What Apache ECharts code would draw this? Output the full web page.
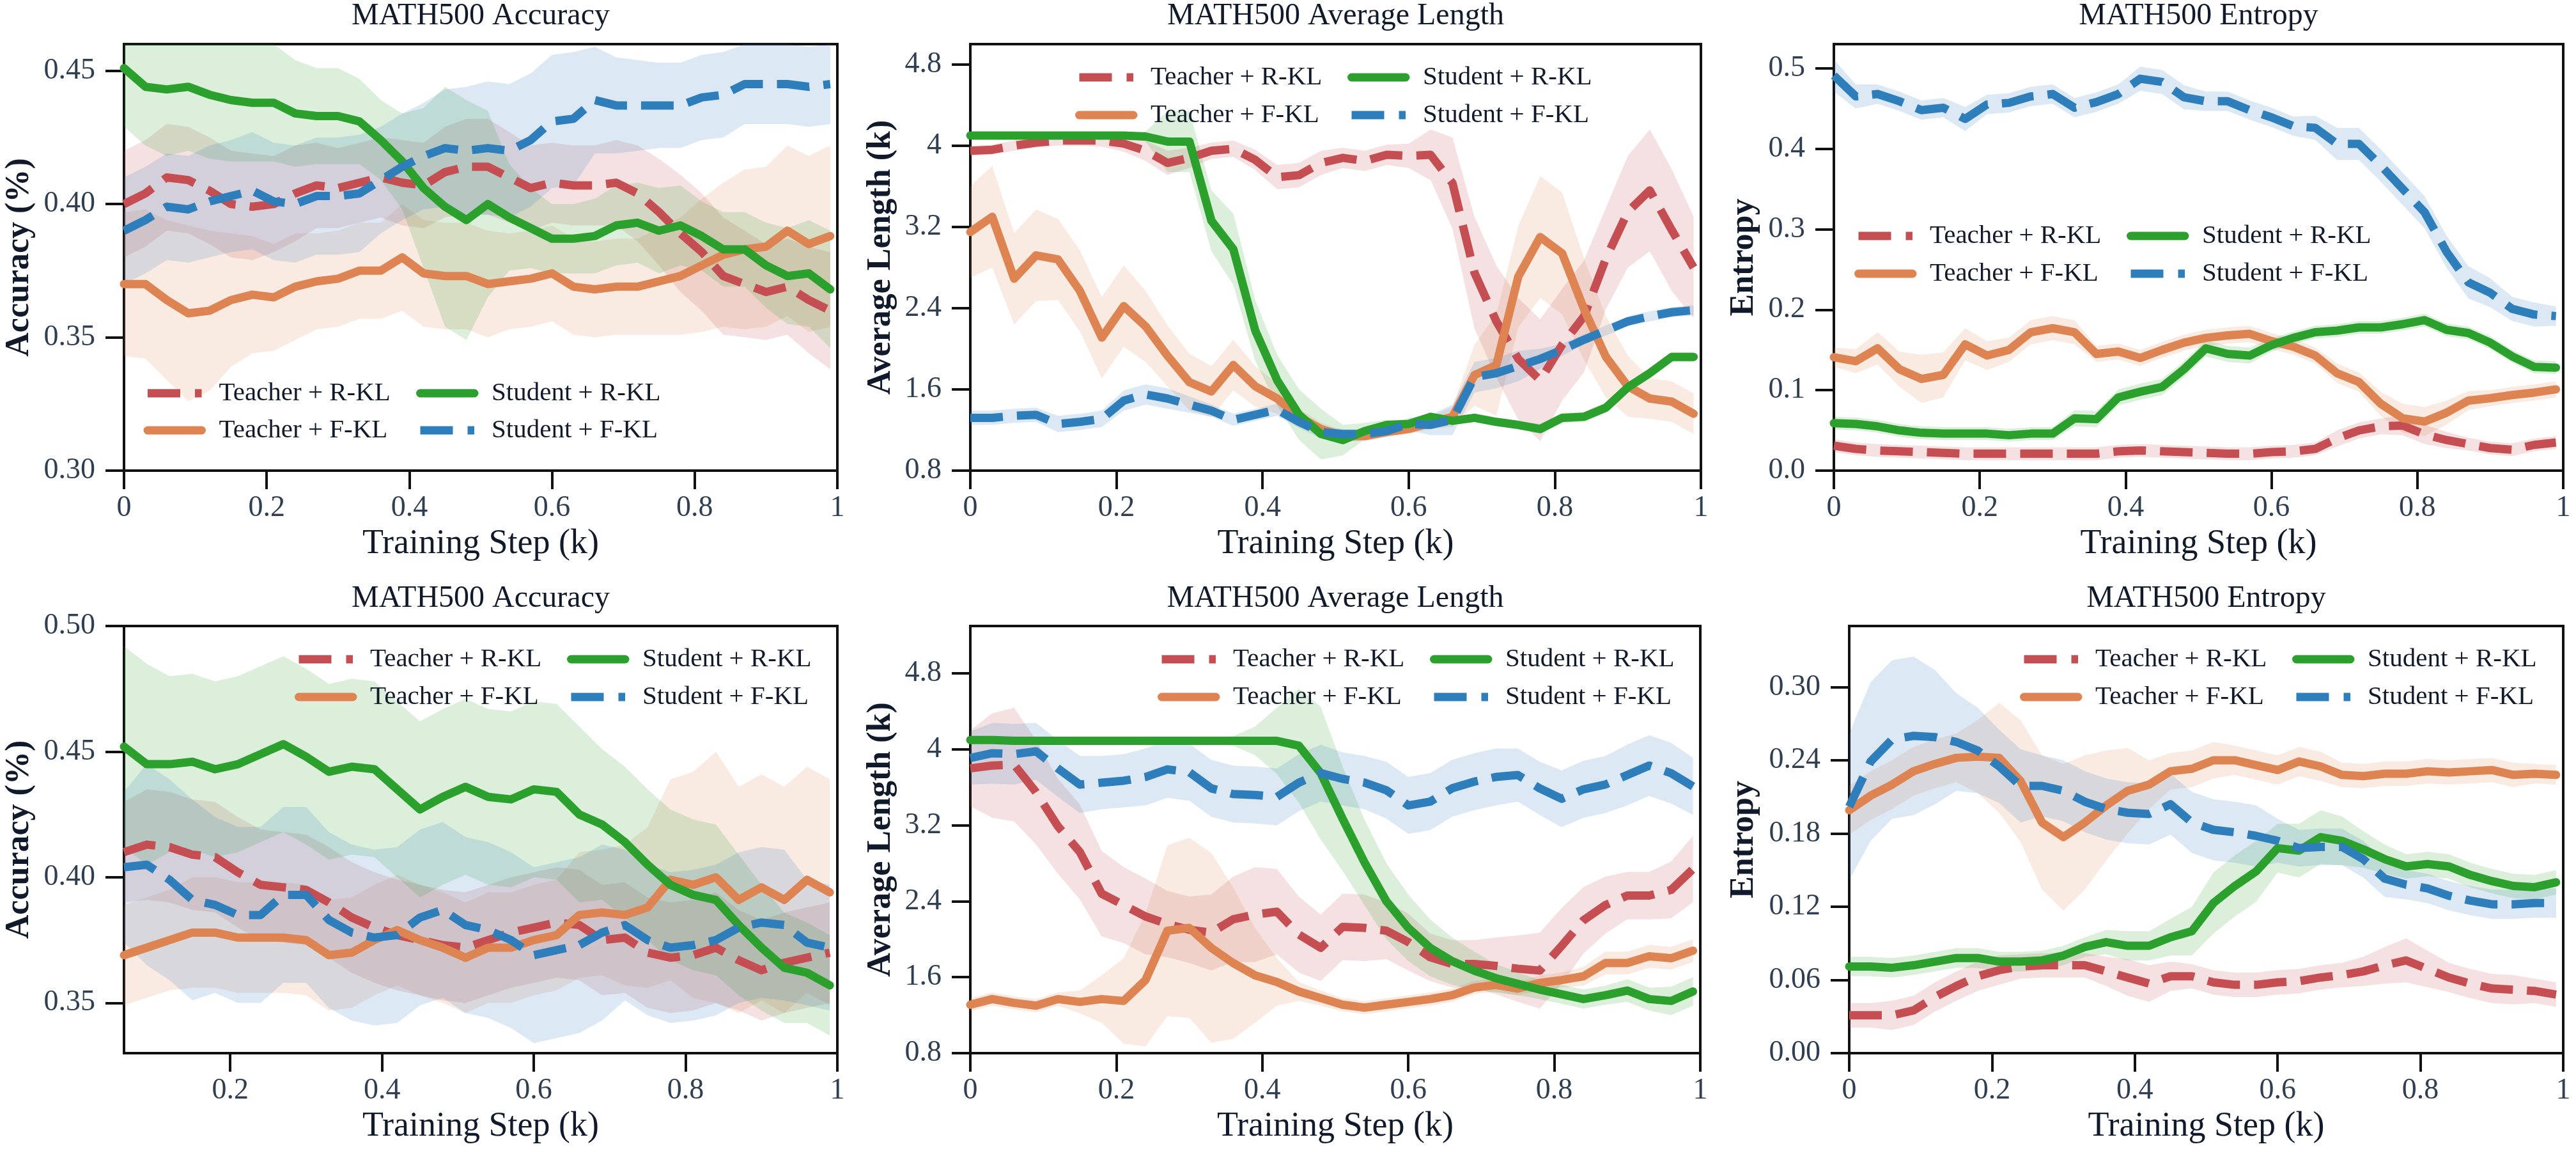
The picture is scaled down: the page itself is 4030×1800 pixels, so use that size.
<!DOCTYPE html>
<html><head><meta charset="utf-8">
<script src="https://cdn.jsdelivr.net/npm/echarts@6/dist/echarts.min.js"></script>
<style>html,body{margin:0;padding:0;background:#fff}#c{width:4030px;height:1800px}</style>
</head><body><div id="c"></div>
<script>
// ---------------- DATA ----------------
const seriesNames = ['Teacher + R-KL', 'Teacher + F-KL', 'Student + R-KL', 'Student + F-KL'];
const stepsFull = [0,0.03,0.06,0.09,0.12,0.15,0.18,0.21,0.24,0.27,0.30,0.33,0.36,0.39,0.42,0.45,0.48,0.51,0.54,0.57,0.60,0.63,0.66,0.69,0.72,0.75,0.78,0.81,0.84,0.87,0.90,0.93,0.96,0.99];
const stepsLate = [0.06,0.09,0.12,0.15,0.18,0.21,0.24,0.27,0.30,0.33,0.36,0.39,0.42,0.45,0.48,0.51,0.54,0.57,0.60,0.63,0.66,0.69,0.72,0.75,0.78,0.81,0.84,0.87,0.90,0.93,0.96,0.99];
const xTicksFull = [0,0.2,0.4,0.6,0.8,1];
const xLabelsFull = ['0','0.2','0.4','0.6','0.8','1'];
const xTicksLate = [0.2,0.4,0.6,0.8,1];
const xLabelsLate = ['0.2','0.4','0.6','0.8','1'];

// Panel 1: MATH500 Accuracy (top)
const accTopYTicks = [0.30,0.35,0.40,0.45];
const accTopYLabels = ['0.30','0.35','0.40','0.45'];
const accTopTR = [0.400,0.404,0.410,0.409,0.405,0.400,0.399,0.400,0.404,0.407,0.406,0.408,0.410,0.408,0.407,0.412,0.414,0.414,0.410,0.406,0.408,0.407,0.407,0.408,0.404,0.397,0.389,0.382,0.373,0.370,0.367,0.369,0.364,0.360];
const accTopTF = [0.370,0.370,0.364,0.359,0.360,0.364,0.366,0.365,0.369,0.371,0.372,0.375,0.375,0.380,0.374,0.373,0.373,0.370,0.371,0.372,0.374,0.369,0.368,0.369,0.369,0.371,0.373,0.377,0.381,0.383,0.384,0.390,0.385,0.388];
const accTopSR = [0.451,0.444,0.443,0.444,0.441,0.439,0.438,0.438,0.434,0.433,0.433,0.431,0.424,0.416,0.406,0.399,0.394,0.400,0.395,0.391,0.387,0.387,0.388,0.392,0.393,0.390,0.392,0.388,0.383,0.383,0.377,0.373,0.374,0.368];
const accTopSF = [0.390,0.394,0.399,0.398,0.401,0.403,0.405,0.401,0.400,0.403,0.403,0.404,0.409,0.414,0.418,0.421,0.420,0.421,0.420,0.424,0.431,0.432,0.439,0.437,0.437,0.437,0.437,0.440,0.441,0.445,0.445,0.445,0.444,0.445];
const accTopTRci = [0.020,0.020,0.020,0.020,0.020,0.020,0.020,0.018,0.018,0.016,0.015,0.015,0.015,0.016,0.016,0.017,0.018,0.018,0.017,0.016,0.015,0.015,0.015,0.016,0.018,0.020,0.022,0.022,0.022,0.020,0.018,0.018,0.020,0.022];
const accTopTFci = [0.027,0.028,0.030,0.033,0.030,0.025,0.022,0.020,0.020,0.018,0.018,0.018,0.018,0.020,0.020,0.020,0.020,0.020,0.018,0.018,0.018,0.018,0.018,0.018,0.018,0.020,0.022,0.025,0.027,0.030,0.030,0.032,0.033,0.034];
const accTopSRci = [0.022,0.022,0.025,0.024,0.024,0.023,0.022,0.022,0.020,0.018,0.018,0.016,0.015,0.018,0.030,0.045,0.045,0.035,0.020,0.015,0.013,0.013,0.014,0.015,0.015,0.016,0.015,0.013,0.014,0.014,0.016,0.018,0.020,0.022];
const accTopSFci = [0.020,0.020,0.020,0.020,0.021,0.021,0.022,0.022,0.022,0.022,0.022,0.022,0.020,0.020,0.020,0.022,0.024,0.025,0.025,0.025,0.025,0.025,0.020,0.018,0.017,0.016,0.016,0.016,0.016,0.015,0.015,0.015,0.015,0.015];

// Panel 2: MATH500 Average Length (top)
const lenTopYTicks = [0.8,1.6,2.4,3.2,4.0,4.8];
const lenTopYLabels = ['0.8','1.6','2.4','3.2','4','4.8'];
const lenTopTR = [3.95,3.96,4.00,4.03,4.05,4.05,4.05,4.02,3.95,3.83,3.88,3.95,3.97,3.86,3.69,3.71,3.83,3.88,3.85,3.91,3.90,3.91,3.63,2.75,2.27,1.90,1.69,2.04,2.32,2.89,3.35,3.56,3.17,2.80];
const lenTopTF = [3.15,3.30,2.69,2.92,2.88,2.57,2.11,2.42,2.22,1.93,1.67,1.58,1.84,1.63,1.51,1.33,1.21,1.14,1.14,1.18,1.21,1.27,1.33,1.74,1.84,2.71,3.10,2.94,2.39,1.92,1.63,1.51,1.48,1.36];
const lenTopSR = [4.10,4.10,4.10,4.10,4.10,4.10,4.10,4.10,4.09,4.04,4.04,3.26,2.98,2.18,1.69,1.35,1.16,1.10,1.19,1.25,1.26,1.33,1.29,1.32,1.28,1.25,1.21,1.32,1.33,1.42,1.62,1.76,1.92,1.92];
const lenTopSF = [1.32,1.32,1.34,1.35,1.26,1.28,1.31,1.49,1.55,1.51,1.45,1.39,1.30,1.35,1.40,1.28,1.18,1.16,1.16,1.19,1.26,1.25,1.30,1.72,1.76,1.83,1.90,1.99,2.09,2.18,2.27,2.32,2.36,2.38];
const lenTopTRci = [0.05,0.05,0.05,0.05,0.05,0.05,0.06,0.08,0.10,0.12,0.10,0.08,0.08,0.10,0.12,0.12,0.12,0.10,0.10,0.10,0.12,0.25,0.45,0.55,0.55,0.60,0.60,0.55,0.55,0.50,0.55,0.60,0.60,0.50];
const lenTopTFci = [0.45,0.50,0.45,0.45,0.40,0.40,0.40,0.40,0.35,0.30,0.28,0.25,0.25,0.20,0.15,0.08,0.06,0.05,0.05,0.05,0.05,0.06,0.10,0.30,0.50,0.50,0.60,0.60,0.50,0.40,0.30,0.20,0.20,0.20];
const lenTopSRci = [0.02,0.02,0.02,0.02,0.02,0.02,0.02,0.02,0.05,0.30,0.30,0.30,0.35,0.30,0.25,0.25,0.25,0.15,0.08,0.05,0.04,0.04,0.04,0.04,0.04,0.04,0.05,0.05,0.05,0.05,0.05,0.05,0.05,0.05];
const lenTopSFci = [0.07,0.07,0.07,0.07,0.08,0.08,0.08,0.10,0.10,0.10,0.08,0.06,0.06,0.06,0.06,0.06,0.06,0.05,0.05,0.05,0.06,0.10,0.15,0.15,0.15,0.15,0.10,0.06,0.05,0.05,0.05,0.05,0.05,0.05];

// Panel 3: MATH500 Entropy (top)
const entTopYTicks = [0,0.1,0.2,0.3,0.4,0.5];
const entTopYLabels = ['0.0','0.1','0.2','0.3','0.4','0.5'];
const entTopTR = [0.031,0.027,0.025,0.024,0.023,0.022,0.021,0.021,0.021,0.021,0.021,0.021,0.021,0.024,0.025,0.024,0.023,0.022,0.021,0.021,0.023,0.024,0.027,0.040,0.050,0.055,0.056,0.045,0.038,0.033,0.028,0.026,0.032,0.035];
const entTopTF = [0.141,0.136,0.152,0.126,0.114,0.119,0.157,0.143,0.150,0.172,0.177,0.172,0.145,0.148,0.140,0.150,0.159,0.165,0.168,0.170,0.161,0.154,0.143,0.121,0.110,0.083,0.065,0.061,0.072,0.087,0.090,0.094,0.097,0.101];
const entTopSR = [0.059,0.058,0.055,0.050,0.047,0.046,0.046,0.046,0.044,0.046,0.046,0.065,0.064,0.091,0.098,0.104,0.126,0.152,0.145,0.143,0.156,0.165,0.172,0.174,0.178,0.178,0.182,0.187,0.175,0.171,0.159,0.142,0.129,0.128];
const entTopSF = [0.491,0.465,0.468,0.459,0.448,0.451,0.437,0.455,0.457,0.465,0.468,0.451,0.458,0.468,0.487,0.483,0.464,0.459,0.459,0.448,0.439,0.428,0.426,0.406,0.406,0.379,0.350,0.321,0.272,0.234,0.221,0.201,0.194,0.192];
const entTopTRci = [0.008,0.008,0.008,0.008,0.008,0.008,0.008,0.008,0.008,0.008,0.008,0.008,0.008,0.008,0.008,0.008,0.008,0.008,0.008,0.008,0.008,0.008,0.008,0.010,0.010,0.010,0.012,0.012,0.010,0.008,0.008,0.008,0.008,0.008];
const entTopTFci = [0.012,0.015,0.020,0.022,0.030,0.028,0.020,0.018,0.015,0.015,0.015,0.015,0.010,0.010,0.010,0.010,0.010,0.010,0.010,0.010,0.010,0.010,0.010,0.012,0.012,0.015,0.018,0.018,0.015,0.012,0.010,0.010,0.010,0.010];
const entTopSRci = [0.008,0.008,0.008,0.008,0.008,0.008,0.008,0.008,0.008,0.008,0.008,0.010,0.010,0.010,0.010,0.010,0.010,0.010,0.010,0.010,0.008,0.008,0.008,0.008,0.008,0.008,0.008,0.008,0.008,0.008,0.008,0.008,0.008,0.008];
const entTopSFci = [0.020,0.015,0.012,0.012,0.012,0.012,0.015,0.012,0.012,0.012,0.012,0.012,0.012,0.012,0.015,0.015,0.015,0.012,0.012,0.012,0.012,0.012,0.015,0.020,0.020,0.020,0.020,0.020,0.020,0.020,0.018,0.015,0.015,0.012];

// Panel 4: MATH500 Accuracy (bottom)
const accBotYTicks = [0.35,0.40,0.45,0.50];
const accBotYLabels = ['0.35','0.40','0.45','0.50'];
const accBotTR = [0.410,0.413,0.412,0.409,0.408,0.402,0.397,0.396,0.395,0.390,0.384,0.380,0.377,0.375,0.373,0.372,0.375,0.378,0.380,0.382,0.381,0.375,0.376,0.370,0.368,0.369,0.372,0.367,0.363,0.366,0.368,0.370];
const accBotTF = [0.369,0.372,0.375,0.378,0.378,0.376,0.376,0.376,0.375,0.369,0.370,0.375,0.379,0.375,0.372,0.368,0.372,0.372,0.375,0.377,0.385,0.386,0.385,0.388,0.399,0.397,0.400,0.391,0.396,0.391,0.399,0.394];
const accBotSR = [0.452,0.445,0.445,0.446,0.443,0.445,0.449,0.453,0.448,0.442,0.444,0.443,0.435,0.427,0.432,0.436,0.432,0.431,0.435,0.434,0.425,0.421,0.414,0.405,0.397,0.393,0.391,0.381,0.372,0.364,0.362,0.357];
const accBotSF = [0.404,0.405,0.399,0.391,0.389,0.385,0.385,0.393,0.393,0.383,0.378,0.376,0.377,0.384,0.387,0.381,0.379,0.375,0.369,0.371,0.373,0.378,0.381,0.375,0.372,0.373,0.375,0.380,0.382,0.381,0.374,0.372];
const accBotTRci = [0.020,0.022,0.022,0.022,0.022,0.022,0.022,0.022,0.022,0.022,0.022,0.022,0.022,0.022,0.022,0.022,0.022,0.022,0.022,0.022,0.022,0.022,0.022,0.022,0.022,0.022,0.022,0.020,0.020,0.020,0.020,0.020];
const accBotTFci = [0.020,0.020,0.020,0.022,0.022,0.022,0.022,0.022,0.022,0.022,0.022,0.022,0.022,0.022,0.022,0.022,0.022,0.022,0.022,0.022,0.025,0.025,0.028,0.032,0.040,0.045,0.050,0.045,0.045,0.045,0.045,0.045];
const accBotSRci = [0.040,0.040,0.035,0.035,0.035,0.035,0.035,0.035,0.035,0.035,0.035,0.035,0.035,0.035,0.035,0.035,0.035,0.035,0.035,0.035,0.035,0.030,0.030,0.030,0.030,0.030,0.030,0.028,0.025,0.022,0.020,0.020];
const accBotSFci = [0.030,0.040,0.040,0.040,0.035,0.035,0.035,0.035,0.035,0.035,0.035,0.035,0.035,0.035,0.035,0.035,0.035,0.035,0.035,0.035,0.035,0.035,0.030,0.030,0.030,0.030,0.030,0.030,0.030,0.030,0.025,0.025];

// Panel 5: MATH500 Average Length (bottom)
const lenBotYTicks = [0.8,1.6,2.4,3.2,4.0,4.8];
const lenBotYLabels = ['0.8','1.6','2.4','3.2','4','4.8'];
const lenBotTR = [3.80,3.83,3.84,3.55,3.19,2.92,2.48,2.36,2.24,2.16,2.10,2.07,2.21,2.26,2.29,2.05,1.91,2.13,2.12,2.09,1.97,1.81,1.74,1.74,1.72,1.69,1.67,1.93,2.20,2.36,2.46,2.46,2.52,2.74];
const lenBotTF = [1.31,1.37,1.33,1.30,1.37,1.34,1.37,1.35,1.57,2.09,2.12,1.91,1.75,1.62,1.55,1.45,1.38,1.31,1.28,1.31,1.34,1.37,1.41,1.49,1.52,1.48,1.54,1.57,1.61,1.75,1.75,1.82,1.80,1.88];
const lenBotSR = [4.10,4.10,4.09,4.09,4.09,4.09,4.09,4.09,4.09,4.09,4.09,4.09,4.09,4.09,4.09,4.04,3.75,3.27,2.81,2.40,2.12,1.91,1.77,1.67,1.59,1.53,1.47,1.42,1.37,1.41,1.46,1.37,1.35,1.45];
const lenBotSF = [3.91,3.96,3.95,3.98,3.80,3.63,3.65,3.67,3.71,3.79,3.76,3.59,3.53,3.52,3.50,3.65,3.75,3.69,3.65,3.57,3.41,3.45,3.59,3.66,3.71,3.73,3.59,3.48,3.58,3.63,3.73,3.83,3.75,3.61];
const lenBotTRci = [0.40,0.55,0.60,0.55,0.50,0.50,0.45,0.40,0.40,0.35,0.35,0.40,0.45,0.50,0.45,0.40,0.35,0.35,0.35,0.30,0.30,0.25,0.25,0.25,0.30,0.35,0.40,0.40,0.35,0.30,0.25,0.25,0.30,0.35];
const lenBotTFci = [0.07,0.07,0.07,0.07,0.07,0.12,0.25,0.45,0.70,0.90,0.95,1.00,0.80,0.50,0.25,0.10,0.08,0.07,0.07,0.07,0.07,0.07,0.07,0.07,0.07,0.07,0.08,0.08,0.10,0.12,0.12,0.12,0.12,0.12];
const lenBotSRci = [0.03,0.03,0.03,0.03,0.03,0.03,0.03,0.03,0.03,0.03,0.03,0.03,0.05,0.15,0.35,0.60,0.70,0.55,0.45,0.40,0.35,0.30,0.25,0.20,0.15,0.12,0.10,0.10,0.10,0.10,0.12,0.12,0.15,0.15];
const lenBotSFci = [0.28,0.32,0.32,0.30,0.30,0.30,0.28,0.28,0.30,0.30,0.30,0.30,0.30,0.30,0.30,0.30,0.30,0.28,0.28,0.30,0.30,0.30,0.30,0.30,0.30,0.28,0.28,0.30,0.30,0.30,0.32,0.32,0.32,0.30];

// Panel 6: MATH500 Entropy (bottom)
const entBotYTicks = [0,0.06,0.12,0.18,0.24,0.30];
const entBotYLabels = ['0.00','0.06','0.12','0.18','0.24','0.30'];
const entBotTR = [0.031,0.031,0.031,0.035,0.046,0.055,0.063,0.068,0.071,0.072,0.072,0.072,0.067,0.062,0.057,0.063,0.063,0.058,0.056,0.056,0.058,0.059,0.062,0.064,0.067,0.072,0.076,0.069,0.062,0.057,0.053,0.052,0.051,0.048];
const entBotTF = [0.199,0.211,0.220,0.231,0.237,0.242,0.243,0.242,0.223,0.189,0.177,0.189,0.203,0.215,0.220,0.231,0.233,0.240,0.240,0.236,0.232,0.239,0.235,0.228,0.227,0.229,0.229,0.231,0.230,0.231,0.232,0.228,0.229,0.228];
const entBotSR = [0.071,0.071,0.070,0.072,0.075,0.078,0.078,0.075,0.075,0.076,0.080,0.087,0.091,0.088,0.088,0.095,0.100,0.123,0.137,0.149,0.168,0.166,0.177,0.174,0.167,0.159,0.153,0.155,0.153,0.146,0.141,0.137,0.136,0.140];
const entBotSF = [0.202,0.239,0.257,0.260,0.259,0.255,0.248,0.235,0.219,0.219,0.215,0.206,0.200,0.197,0.196,0.204,0.189,0.183,0.181,0.178,0.174,0.168,0.169,0.169,0.159,0.143,0.138,0.135,0.129,0.125,0.122,0.122,0.123,0.123];
const entBotTRci = [0.010,0.010,0.012,0.012,0.012,0.012,0.012,0.012,0.010,0.010,0.010,0.010,0.012,0.015,0.015,0.012,0.010,0.010,0.010,0.010,0.010,0.010,0.010,0.010,0.012,0.015,0.018,0.015,0.012,0.012,0.012,0.012,0.010,0.010];
const entBotTFci = [0.020,0.020,0.020,0.020,0.020,0.020,0.030,0.045,0.050,0.055,0.060,0.055,0.045,0.035,0.020,0.015,0.015,0.015,0.012,0.012,0.012,0.012,0.012,0.010,0.010,0.010,0.010,0.010,0.010,0.010,0.010,0.010,0.008,0.008];
const entBotSRci = [0.008,0.008,0.008,0.008,0.008,0.008,0.008,0.008,0.008,0.008,0.008,0.008,0.010,0.012,0.012,0.015,0.020,0.025,0.025,0.025,0.020,0.022,0.022,0.020,0.015,0.012,0.010,0.010,0.010,0.010,0.010,0.010,0.010,0.010];
const entBotSFci = [0.060,0.065,0.065,0.065,0.055,0.040,0.035,0.030,0.030,0.025,0.025,0.025,0.025,0.025,0.025,0.025,0.025,0.025,0.025,0.025,0.018,0.015,0.015,0.015,0.015,0.015,0.012,0.012,0.012,0.012,0.012,0.012,0.012,0.012];

// ---------------- STYLE / LAYOUT ----------------
const FONT = 'Liberation Serif, Times New Roman, serif';
const colors = ['#c44e52', '#dd8452', '#2ca02c', '#2e7ebc'];
const bandColors = ['rgba(196,78,82,0.17)', 'rgba(221,132,82,0.17)', 'rgba(44,160,44,0.17)', 'rgba(46,126,188,0.17)'];
const dashed = [true, false, false, true];
const LW = 13;
const iconSolid = 'path://M0,0 L0,13 M6.5,0 L91,0 A6.5,6.5 0 0 1 91,13 L6.5,13 A6.5,6.5 0 0 1 6.5,0 Z M113,0 L113,13';
const iconDash = 'path://M0,0 L0,13 M6.5,0 L57.5,0 L57.5,13 L6.5,13 Z M80.5,0 L91,0 L91,13 L80.5,13 Z M113,0 L113,13';

const panels = [
  {title:'MATH500 Accuracy', yName:'Accuracy (%)', grid:{left:194,top:69,width:1116,height:667}, xs:stepsFull, xMin:0, xT:xTicksFull, xL:xLabelsFull, yMin:0.30, yMax:0.46, yT:accTopYTicks, yL:accTopYLabels,
   ys:[accTopTR,accTopTF,accTopSR,accTopSF], ci:[accTopTRci,accTopTFci,accTopSRci,accTopSFci], leg:{c1:224.5,c2:651,r1:615,r2:673}, gap:137, titleY:25},
  {title:'MATH500 Average Length', yName:'Average Length (k)', grid:{left:1518,top:69,width:1143,height:667}, xs:stepsFull, xMin:0, xT:xTicksFull, xL:xLabelsFull, yMin:0.8, yMax:5.0, yT:lenTopYTicks, yL:lenTopYLabels,
   ys:[lenTopTR,lenTopTF,lenTopSR,lenTopSF], ci:[lenTopTRci,lenTopTFci,lenTopSRci,lenTopSFci], leg:{c1:1682,c2:2108,r1:121,r2:180}, gap:113, titleY:25},
  {title:'MATH500 Entropy', yName:'Entropy', grid:{left:2869,top:69,width:1141,height:667}, xs:stepsFull, xMin:0, xT:xTicksFull, xL:xLabelsFull, yMin:0, yMax:0.53, yT:entTopYTicks, yL:entTopYLabels,
   ys:[entTopTR,entTopTF,entTopSR,entTopSF], ci:[entTopTRci,entTopTFci,entTopSRci,entTopSFci], leg:{c1:2901,c2:3327,r1:369,r2:428}, gap:114, titleY:25},
  {title:'MATH500 Accuracy', yName:'Accuracy (%)', grid:{left:194,top:979,width:1116,height:668}, xs:stepsLate, xMin:0.06, xT:xTicksLate, xL:xLabelsLate, yMin:0.33, yMax:0.50, yT:accBotYTicks, yL:accBotYLabels,
   ys:[accBotTR,accBotTF,accBotSR,accBotSF], ci:[accBotTRci,accBotTFci,accBotSRci,accBotSFci], leg:{c1:461,c2:887,r1:1031,r2:1090}, gap:137, titleY:936},
  {title:'MATH500 Average Length', yName:'Average Length (k)', grid:{left:1518,top:979,width:1142,height:668}, xs:stepsFull, xMin:0, xT:xTicksFull, xL:xLabelsFull, yMin:0.8, yMax:5.3, yT:lenBotYTicks, yL:lenBotYLabels,
   ys:[lenBotTR,lenBotTF,lenBotSR,lenBotSF], ci:[lenBotTRci,lenBotTFci,lenBotSRci,lenBotSFci], leg:{c1:1811,c2:2237,r1:1031,r2:1090}, gap:113, titleY:936},
  {title:'MATH500 Entropy', yName:'Entropy', grid:{left:2893,top:979,width:1117,height:668}, xs:stepsFull, xMin:0, xT:xTicksFull, xL:xLabelsFull, yMin:0, yMax:0.35, yT:entBotYTicks, yL:entBotYLabels,
   ys:[entBotTR,entBotTF,entBotSR,entBotSF], ci:[entBotTRci,entBotTFci,entBotSRci,entBotSFci], leg:{c1:3160,c2:3586,r1:1031,r2:1090}, gap:138, titleY:936}
];

function labelFor(ticks, labels) {
  return function (v) {
    for (let i = 0; i < ticks.length; i++) if (Math.abs(ticks[i] - v) < 1e-6) return labels[i];
    return '';
  };
}

const grids = [], xAxes = [], yAxes = [], series = [], legends = [], graphics = [];
const axisLineStyle = {color:'#111111', width:4};

panels.forEach(function (p, pi) {
  grids.push(Object.assign({show:true, borderColor:'#111111', borderWidth:4, backgroundColor:'transparent', containLabel:false}, p.grid));
  xAxes.push({
    type:'value', gridIndex:pi, min:p.xMin, max:1,
    axisLine:{show:true, onZero:false, lineStyle:axisLineStyle},
    axisTick:{show:true, inside:false, length:29, lineStyle:{color:'#111111', width:4}, customValues:p.xT},
    axisLabel:{show:true, margin:36, customValues:p.xT, formatter:labelFor(p.xT, p.xL), fontFamily:FONT, fontSize:46, color:'#2f3e51'},
    splitLine:{show:false},
    name:'Training Step (k)', nameLocation:'middle', nameGap:88,
    nameTextStyle:{fontFamily:FONT, fontSize:54, color:'#111a2b'}
  });
  yAxes.push({
    type:'value', gridIndex:pi, min:p.yMin, max:p.yMax,
    axisLine:{show:true, onZero:false, lineStyle:axisLineStyle},
    axisTick:{show:true, inside:false, length:29, lineStyle:{color:'#111111', width:4}, customValues:p.yT},
    axisLabel:{show:true, margin:45, customValues:p.yT, formatter:labelFor(p.yT, p.yL), fontFamily:FONT, fontSize:46, color:'#2f3e51'},
    splitLine:{show:false},
    name:p.yName, nameLocation:'middle', nameGap:p.gap,
    nameTextStyle:{fontFamily:FONT, fontSize:52, fontWeight:'bold', color:'#111a2b'}
  });
  // confidence bands
  p.ys.forEach(function (ys, si) {
    const xs = p.xs, ci = p.ci[si];
    series.push({
      type:'custom', name:'band', xAxisIndex:pi, yAxisIndex:pi, clip:true, silent:true, z:1,
      data:[[xs[0], ys[0]]],
      renderItem:function (params, api) {
        const pts = [];
        for (let i = 0; i < xs.length; i++) pts.push(api.coord([xs[i], ys[i] + ci[i]]));
        for (let i = xs.length - 1; i >= 0; i--) pts.push(api.coord([xs[i], ys[i] - ci[i]]));
        return {type:'polygon', shape:{points:pts}, style:{fill:bandColors[si], stroke:null}};
      }
    });
  });
  // mean lines
  p.ys.forEach(function (ys, si) {
    series.push({
      type:'line', name:seriesNames[si], xAxisIndex:pi, yAxisIndex:pi,
      data:p.xs.map(function (x, i) { return [x, ys[i]]; }),
      symbol:'none', showSymbol:false, smooth:false, clip:true, silent:true, z:3 + si * 0.01,
      itemStyle:{color:colors[si]},
      lineStyle:{color:colors[si], width:LW, type:dashed[si] ? [51, 22] : 'solid', cap:dashed[si] ? 'butt' : 'round', join:'round'}
    });
  });
  // legends (2 x 2)
  const pos = [[p.leg.c1, p.leg.r1], [p.leg.c1, p.leg.r2], [p.leg.c2, p.leg.r1], [p.leg.c2, p.leg.r2]];
  for (let si = 0; si < 4; si++) {
    legends.push({
      left:pos[si][0], top:pos[si][1] - 21, padding:0, itemGap:0,
      itemWidth:113, itemHeight:13, selectedMode:false,
      itemStyle:{borderWidth:0},
      textStyle:{fontFamily:FONT, fontSize:41, lineHeight:42, color:'#111a2b'},
      data:[{name:seriesNames[si], icon:dashed[si] ? iconDash : iconSolid}]
    });
  }
  graphics.push({
    type:'text', x:p.grid.left + p.grid.width / 2, y:p.titleY,
    style:{text:p.title, fontFamily:FONT, fontSize:48, fill:'#111a2b', align:'center', verticalAlign:'middle'}
  });
});

const chart = echarts.init(document.getElementById('c'), null, {renderer:'canvas', width:4030, height:1800});
chart.setOption({
  animation:false,
  backgroundColor:'#ffffff',
  grid:grids, xAxis:xAxes, yAxis:yAxes, series:series, legend:legends, graphic:graphics
});
</script></body></html>
